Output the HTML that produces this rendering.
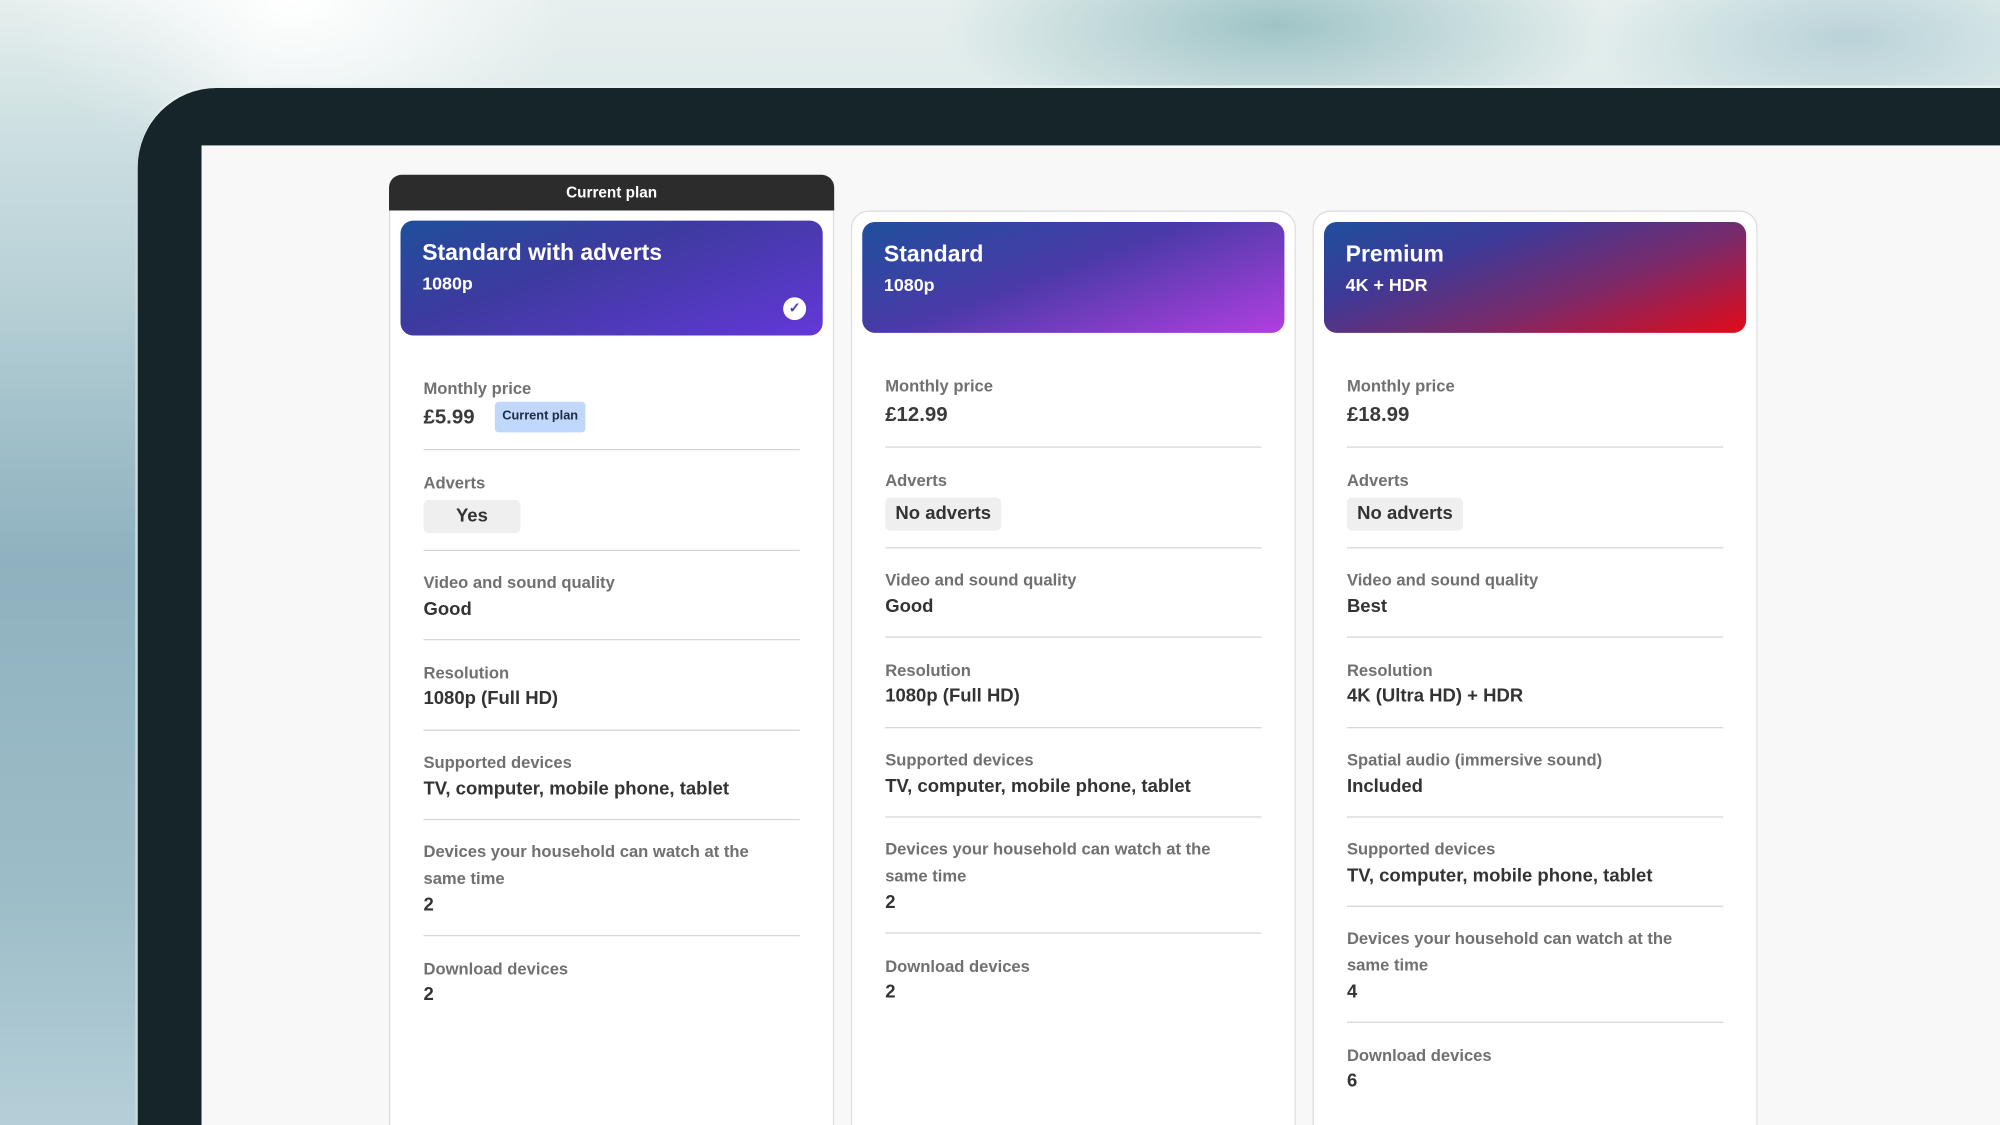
<!DOCTYPE html>
<html><head><meta charset="utf-8"><style>
*{margin:0;padding:0;box-sizing:border-box}
html,body{width:2000px;height:1125px;overflow:hidden}
body{background:#cfe0e2;font-family:"Liberation Sans",sans-serif}
#w{position:absolute;left:0;top:0;width:1568px;height:882px;transform:scale(1.27551);transform-origin:0 0;overflow:hidden;
background:
radial-gradient(ellipse 260px 90px at 1000px 20px,#9fc4c6 0%,rgba(159,196,198,0) 100%),
radial-gradient(ellipse 200px 80px at 1450px 30px,#b9d3d8 0%,rgba(185,211,216,0) 100%),
radial-gradient(ellipse 220px 140px at 230px 0px,#ffffff 0%,rgba(255,255,255,0) 100%),
linear-gradient(180deg,#e6efee 0%,#c4dadc 40%,#9dbdc7 70%,#b8d2da 100%);}
.abs{position:absolute}
#leftblur{left:0;top:0;width:200px;height:882px;background:linear-gradient(180deg,rgba(230,240,240,0) 0%,rgba(170,200,208,.6) 25%,#8fb1bf 50%,#9dbdc8 80%,#b5cfd8 100%);-webkit-mask-image:linear-gradient(90deg,#000 0%,#000 55%,transparent 100%);mask-image:linear-gradient(90deg,#000 0%,#000 55%,transparent 100%)}
#bezel{left:108px;top:69px;width:1480px;height:813px;background:#15252a;border-radius:62px 0 0 0;box-shadow:0 -2px 0 #e8f0f0, -2px 0 0 #c9d9dc}
#screen{left:158px;top:114px;width:1420px;height:768px;background:#f8f8f8}
.card{position:absolute;background:#fff;border:1px solid #dcdcdc;border-radius:14px 14px 0 0;border-bottom:none}
.tab{position:absolute;left:305px;top:137px;width:349px;height:28px;background:#2c2c2c;border-radius:10px 10px 0 0;color:#fff;font-size:12px;font-weight:bold;text-align:center;line-height:28px}
.hd{position:absolute;border-radius:10px;color:#fff;padding:15px 17px}
.hd .t{font-size:18px;font-weight:bold}
.hd .s{font-size:14px;font-weight:bold;margin-top:5px}
.lb{position:absolute;font-size:13px;color:#707070;font-weight:bold;line-height:21px;width:280px}
.vl{position:absolute;font-size:14.5px;color:#333;font-weight:bold}
.pr{font-size:16px;color:#3a3a3a}
.dv{position:absolute;height:1px;background:#d6d6d6;width:295px}
.pill{position:absolute;background:#efefef;border-radius:4px;font-size:14.5px;font-weight:bold;color:#333;text-align:center;line-height:26px;height:26px}
</style></head><body><div id="w">
<div class="abs" id="leftblur"></div>
<div class="abs" id="bezel"></div>
<div class="abs" id="screen"></div>

<!-- card 1 -->
<div class="card" style="left:305px;top:150px;width:349px;height:732px;border-radius:0"></div>
<div class="tab">Current plan</div>
<div class="hd" style="left:314px;top:173px;width:331px;height:90px;background:linear-gradient(160deg,#1f4f9c 0%,#3d3a9e 40%,#6338d8 100%)">
<div class="t">Standard with adverts</div><div class="s">1080p</div>
<div style="position:absolute;right:13px;bottom:12px;width:18px;height:18px;border-radius:50%;background:#fff;color:#4a3ab8;font-size:11px;line-height:18px;text-align:center;font-weight:bold">✓</div></div>
<div class="lb" style="left:332px;top:294px">Monthly price</div>
<div class="vl pr" style="left:332px;top:319px">£5.99</div>
<div class="abs" style="left:388px;top:315px;width:71px;height:24px;background:#bfd8fb;border-radius:3px;font-size:10px;font-weight:bold;color:#1d2b44;text-align:center;line-height:24px">Current plan</div>
<div class="dv" style="left:332px;top:352px"></div>
<div class="lb" style="left:332px;top:368px">Adverts</div>
<div class="pill" style="left:332px;top:392px;width:76px">Yes</div>
<div class="dv" style="left:332px;top:431px"></div>
<div class="lb" style="left:332px;top:446px">Video and sound quality</div>
<div class="vl" style="left:332px;top:470px">Good</div>
<div class="dv" style="left:332px;top:501px"></div>
<div class="lb" style="left:332px;top:517px">Resolution</div>
<div class="vl" style="left:332px;top:540px">1080p (Full HD)</div>
<div class="dv" style="left:332px;top:572px"></div>
<div class="lb" style="left:332px;top:587px">Supported devices</div>
<div class="vl" style="left:332px;top:611px">TV, computer, mobile phone, tablet</div>
<div class="dv" style="left:332px;top:642px"></div>
<div class="lb" style="left:332px;top:657px">Devices your household can watch at the same time</div>
<div class="vl" style="left:332px;top:702px">2</div>
<div class="dv" style="left:332px;top:733px"></div>
<div class="lb" style="left:332px;top:749px">Download devices</div>
<div class="vl" style="left:332px;top:772px">2</div>

<!-- card 2 -->
<div class="card" style="left:667px;top:165px;width:349px;height:717px"></div>
<div class="hd" style="left:676px;top:174px;width:331px;height:87px;background:linear-gradient(160deg,#1f4f9c 0%,#4a3aa8 45%,#b23fe0 100%)">
<div class="t">Standard</div><div class="s">1080p</div></div>
<div class="lb" style="left:694px;top:292px">Monthly price</div>
<div class="vl pr" style="left:694px;top:317px">£12.99</div>
<div class="dv" style="left:694px;top:350px"></div>
<div class="lb" style="left:694px;top:366px">Adverts</div>
<div class="pill" style="left:694px;top:390px;width:91px">No adverts</div>
<div class="dv" style="left:694px;top:429px"></div>
<div class="lb" style="left:694px;top:444px">Video and sound quality</div>
<div class="vl" style="left:694px;top:468px">Good</div>
<div class="dv" style="left:694px;top:499px"></div>
<div class="lb" style="left:694px;top:515px">Resolution</div>
<div class="vl" style="left:694px;top:538px">1080p (Full HD)</div>
<div class="dv" style="left:694px;top:570px"></div>
<div class="lb" style="left:694px;top:585px">Supported devices</div>
<div class="vl" style="left:694px;top:609px">TV, computer, mobile phone, tablet</div>
<div class="dv" style="left:694px;top:640px"></div>
<div class="lb" style="left:694px;top:655px">Devices your household can watch at the same time</div>
<div class="vl" style="left:694px;top:700px">2</div>
<div class="dv" style="left:694px;top:731px"></div>
<div class="lb" style="left:694px;top:747px">Download devices</div>
<div class="vl" style="left:694px;top:770px">2</div>

<!-- card 3 -->
<div class="card" style="left:1029px;top:165px;width:349px;height:717px"></div>
<div class="hd" style="left:1038px;top:174px;width:331px;height:87px;background:linear-gradient(160deg,#1f4f9c 0%,#3d3a98 30%,#7a2a6a 62%,#e20a18 100%)">
<div class="t">Premium</div><div class="s">4K + HDR</div></div>
<div class="lb" style="left:1056px;top:292px">Monthly price</div>
<div class="vl pr" style="left:1056px;top:317px">£18.99</div>
<div class="dv" style="left:1056px;top:350px"></div>
<div class="lb" style="left:1056px;top:366px">Adverts</div>
<div class="pill" style="left:1056px;top:390px;width:91px">No adverts</div>
<div class="dv" style="left:1056px;top:429px"></div>
<div class="lb" style="left:1056px;top:444px">Video and sound quality</div>
<div class="vl" style="left:1056px;top:468px">Best</div>
<div class="dv" style="left:1056px;top:499px"></div>
<div class="lb" style="left:1056px;top:515px">Resolution</div>
<div class="vl" style="left:1056px;top:538px">4K (Ultra HD) + HDR</div>
<div class="dv" style="left:1056px;top:570px"></div>
<div class="lb" style="left:1056px;top:585px">Spatial audio (immersive sound)</div>
<div class="vl" style="left:1056px;top:609px">Included</div>
<div class="dv" style="left:1056px;top:640px"></div>
<div class="lb" style="left:1056px;top:655px">Supported devices</div>
<div class="vl" style="left:1056px;top:679px">TV, computer, mobile phone, tablet</div>
<div class="dv" style="left:1056px;top:710px"></div>
<div class="lb" style="left:1056px;top:725px">Devices your household can watch at the same time</div>
<div class="vl" style="left:1056px;top:770px">4</div>
<div class="dv" style="left:1056px;top:801px"></div>
<div class="lb" style="left:1056px;top:817px">Download devices</div>
<div class="vl" style="left:1056px;top:840px">6</div>
</div></body></html>
